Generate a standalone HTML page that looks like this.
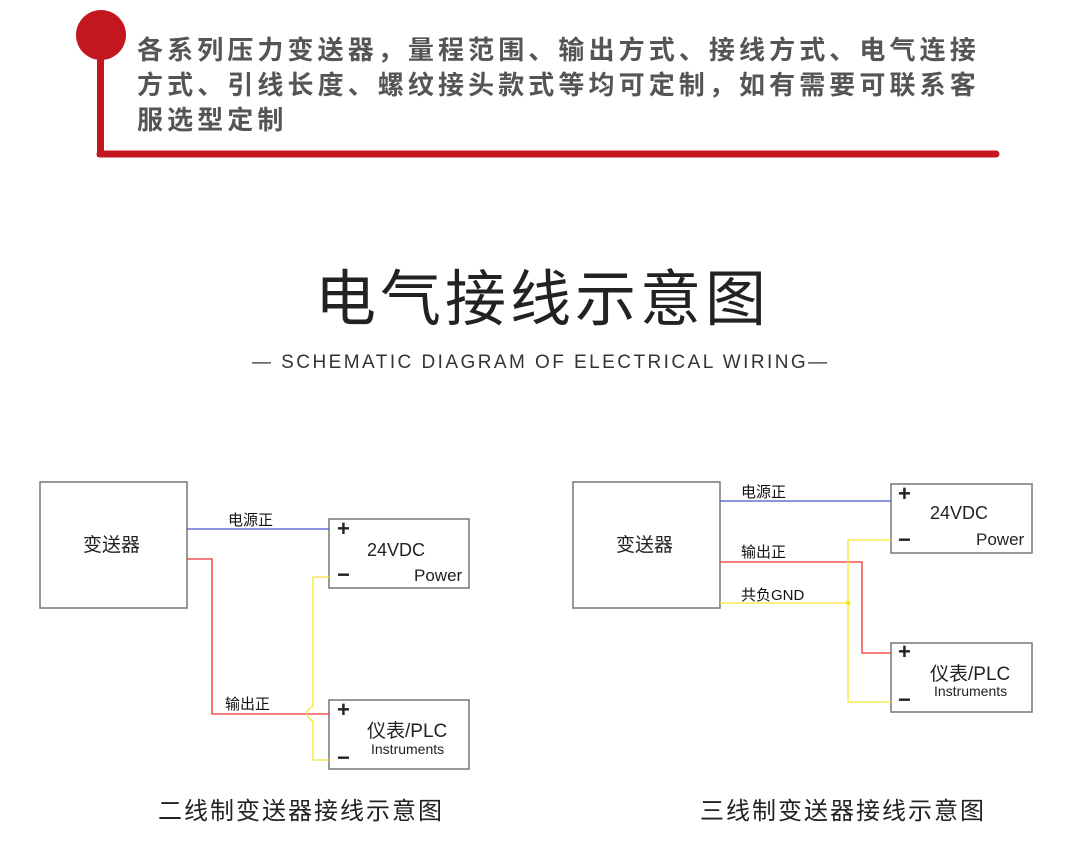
<!DOCTYPE html>
<html><head><meta charset="utf-8"><style>
body{margin:0;width:1080px;height:868px;background:#fff;overflow:hidden;position:relative;font-family:"Liberation Sans","Noto Sans CJK SC",sans-serif}
.hd{position:absolute;left:137px;top:33px;font-size:26px;font-weight:bold;color:#555;letter-spacing:4.1px;line-height:35px;width:860px}
.t{position:absolute;white-space:nowrap}
</style></head><body>
<svg width="1080" height="868" style="position:absolute;left:0;top:0">
<circle cx="101" cy="35" r="25" fill="#c4161e"/>
<rect x="97" y="50" width="7" height="107" fill="#c4161e"/>
<line x1="100" y1="154" x2="996" y2="154" stroke="#c4161e" stroke-width="7" stroke-linecap="round"/>
<g fill="#fff" stroke="#777" stroke-width="1.5">
<rect x="40" y="482" width="147" height="126"/>
<rect x="329" y="519" width="140" height="69"/>
<rect x="329" y="700" width="140" height="69"/>
<rect x="573" y="482" width="147" height="126"/>
<rect x="891" y="484" width="141" height="69"/>
<rect x="891" y="643" width="141" height="69"/>
</g>
<g fill="none" stroke-width="1.3">
<line x1="187" y1="529" x2="329" y2="529" stroke="#4455cc"/>
<polyline points="187,559 212,559 212,714 329,714" stroke="#ee3333"/>
<path d="M329,577 H313 V706 Q306,710 307,714 Q308,719 313,721 V760 H329" stroke="#f2e830"/>
<line x1="720" y1="501" x2="891" y2="501" stroke="#4455cc"/>
<polyline points="720,562 862,562 862,653 891,653" stroke="#ee3333"/>
<polyline points="720,603 848,603" stroke="#f2e830"/>
<polyline points="891,540 848,540 848,702 891,702" stroke="#f2e830"/>
</g>
<circle cx="848" cy="603" r="2.5" fill="#f2e830"/>
</svg>
<div class="hd">各系列压力变送器，量程范围、输出方式、接线方式、电气连接方式、引线长度、螺纹接头款式等均可定制，如有需要可联系客服选型定制</div>
<div class="t" style="left:315px;top:249px;font-size:61px;color:#222;letter-spacing:4px">电气接线示意图</div>
<div class="t" style="left:252px;top:352px;font-size:19px;color:#333;letter-spacing:2.45px">— SCHEMATIC DIAGRAM OF ELECTRICAL WIRING—</div>
<div style="font-size:15px;color:#111">
<div class="t" style="left:228px;top:509px">电源正</div>
<div class="t" style="left:225px;top:693px">输出正</div>
<div class="t" style="left:741px;top:481px">电源正</div>
<div class="t" style="left:741px;top:541px">输出正</div>
<div class="t" style="left:741px;top:584px">共负GND</div>
</div>
<div style="font-size:19px;color:#222">
<div class="t" style="left:83px;top:530px">变送器</div>
<div class="t" style="left:616px;top:530px">变送器</div>
<div class="t" style="left:337px;top:516px;font-size:22px;font-weight:bold">+</div>
<div class="t" style="left:337px;top:562px;font-size:22px;font-weight:bold">−</div>
<div class="t" style="left:367px;top:540px;font-size:18px">24VDC</div>
<div class="t" style="left:414px;top:566px;font-size:17px">Power</div>
<div class="t" style="left:337px;top:697px;font-size:22px;font-weight:bold">+</div>
<div class="t" style="left:337px;top:745px;font-size:22px;font-weight:bold">−</div>
<div class="t" style="left:367px;top:716px;font-size:19px">仪表/PLC</div>
<div class="t" style="left:371px;top:741px;font-size:14px">Instruments</div>
<div class="t" style="left:898px;top:481px;font-size:22px;font-weight:bold">+</div>
<div class="t" style="left:898px;top:527px;font-size:22px;font-weight:bold">−</div>
<div class="t" style="left:930px;top:503px;font-size:18px">24VDC</div>
<div class="t" style="left:976px;top:530px;font-size:17px">Power</div>
<div class="t" style="left:898px;top:639px;font-size:22px;font-weight:bold">+</div>
<div class="t" style="left:898px;top:687px;font-size:22px;font-weight:bold">−</div>
<div class="t" style="left:930px;top:659px;font-size:19px">仪表/PLC</div>
<div class="t" style="left:934px;top:683px;font-size:14px">Instruments</div>
</div>
<div class="t" style="left:158px;top:791px;font-size:24px;color:#222;letter-spacing:2px">二线制变送器接线示意图</div>
<div class="t" style="left:700px;top:791px;font-size:24px;color:#222;letter-spacing:2px">三线制变送器接线示意图</div>
</body></html>
